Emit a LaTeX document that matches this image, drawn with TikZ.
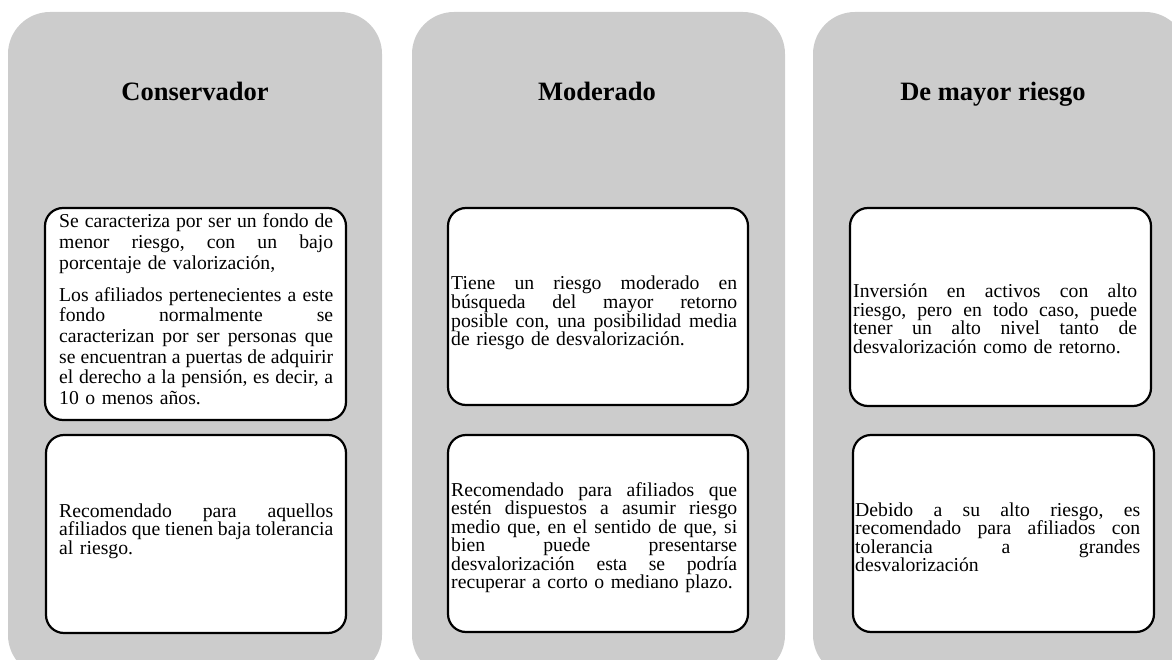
\documentclass[tikz,border=0pt]{standalone}
\usepackage{fontspec}
\setmainfont{Liberation Serif}
\definecolor{colgray}{RGB}{204,204,204}
\frenchspacing
\newcommand{\tw}{274pt}
\newcommand{\jl}[1]{\makebox[\tw][s]{\spaceskip=0.25em plus 1fill minus 0.08em\relax #1}\par}
\newcommand{\lastl}[1]{\makebox[\tw][l]{#1}\par}
\lineskiplimit=-40pt\relax
\tikzset{
  colbox/.style={fill=colgray, rounded corners=42pt, inner sep=0pt, draw=none},
  cardbox/.style={fill=white, draw=black, line width=2.2pt, rounded corners=18pt, inner sep=0pt},
  bodytxt/.style={inner sep=0pt, anchor=base west, font=\fontsize{19.7}{18.5}\selectfont},
  titletxt/.style={inner sep=0pt, anchor=base, font=\bfseries\fontsize{26.5}{30}\selectfont}
}
\begin{document}
\begin{tikzpicture}[x=1pt,y=-1pt]
\useasboundingbox (0,0) rectangle (1172,660);
\clip (0,0) rectangle (1172,660);
% columns
\node[colbox, minimum width=374pt, minimum height=665pt] (c1) at (195,344.5) {};
\node[colbox, minimum width=373pt, minimum height=665pt] (c2) at (598.5,344.5) {};
\node[colbox, minimum width=374pt, minimum height=665pt] (c3) at (1000,344.5) {};
% titles
\node[titletxt] (t1) at (195,101) {Conservador};
\node[titletxt] (t2) at (597,101) {Moderado};
\node[titletxt] (t3) at (993,101) {De mayor riesgo};
% cards
\node[cardbox, minimum width=301pt, minimum height=212pt] (b1a) at (195.5,314) {};
\node[cardbox, minimum width=300pt, minimum height=198pt] (b1b) at (196,534) {};
\node[cardbox, minimum width=300pt, minimum height=197pt] (b2a) at (598,306.5) {};
\node[cardbox, minimum width=300pt, minimum height=197pt] (b2b) at (598,533.5) {};
\node[cardbox, minimum width=301pt, minimum height=198pt] (b3a) at (1000.5,307) {};
\node[cardbox, minimum width=301pt, minimum height=197pt] (b3b) at (1003.5,533.5) {};
% texts
\node[bodytxt, text width=274pt, font=\fontsize{19.7}{20.7}\selectfont] (x1a) at (59,228) {%
\renewcommand{\tw}{274pt}%
\jl{Se caracteriza por ser un fondo de}%
\jl{menor riesgo, con un bajo}%
\lastl{porcentaje de valorización,}%
\vspace{11pt}%
\jl{Los afiliados pertenecientes a este}%
\jl{fondo normalmente se}%
\jl{caracterizan por ser personas que}%
\jl{se encuentran a puertas de adquirir}%
\jl{el derecho a la pensión, es decir, a}%
\lastl{10 o menos años.}};
\node[bodytxt, text width=274pt] (x1b) at (59,517) {%
\renewcommand{\tw}{274pt}%
\jl{Recomendado para aquellos}%
\jl{afiliados que tienen baja tolerancia}%
\lastl{al riesgo.}};
\node[bodytxt, text width=286pt] (x2a) at (451,290) {%
\renewcommand{\tw}{286pt}%
\jl{Tiene un riesgo moderado en}%
\jl{búsqueda del mayor retorno}%
\jl{posible con, una posibilidad media}%
\lastl{de riesgo de desvalorización.}};
\node[bodytxt, text width=286pt] (x2b) at (451,496) {%
\renewcommand{\tw}{286pt}%
\jl{Recomendado para afiliados que}%
\jl{estén dispuestos a asumir riesgo}%
\jl{medio que, en el sentido de que, si}%
\jl{bien puede presentarse}%
\jl{desvalorización esta se podría}%
\lastl{recuperar a corto o mediano plazo.}};
\node[bodytxt, text width=284pt] (x3a) at (853,298) {%
\renewcommand{\tw}{284pt}%
\jl{Inversión en activos con alto}%
\jl{riesgo, pero en todo caso, puede}%
\jl{tener un alto nivel tanto de}%
\lastl{desvalorización como de retorno.}};
\node[bodytxt, text width=285pt] (x3b) at (855,516) {%
\renewcommand{\tw}{285pt}%
\jl{Debido a su alto riesgo, es}%
\jl{recomendado para afiliados con}%
\jl{tolerancia a grandes}%
\lastl{desvalorización}};
\end{tikzpicture}
\end{document}
